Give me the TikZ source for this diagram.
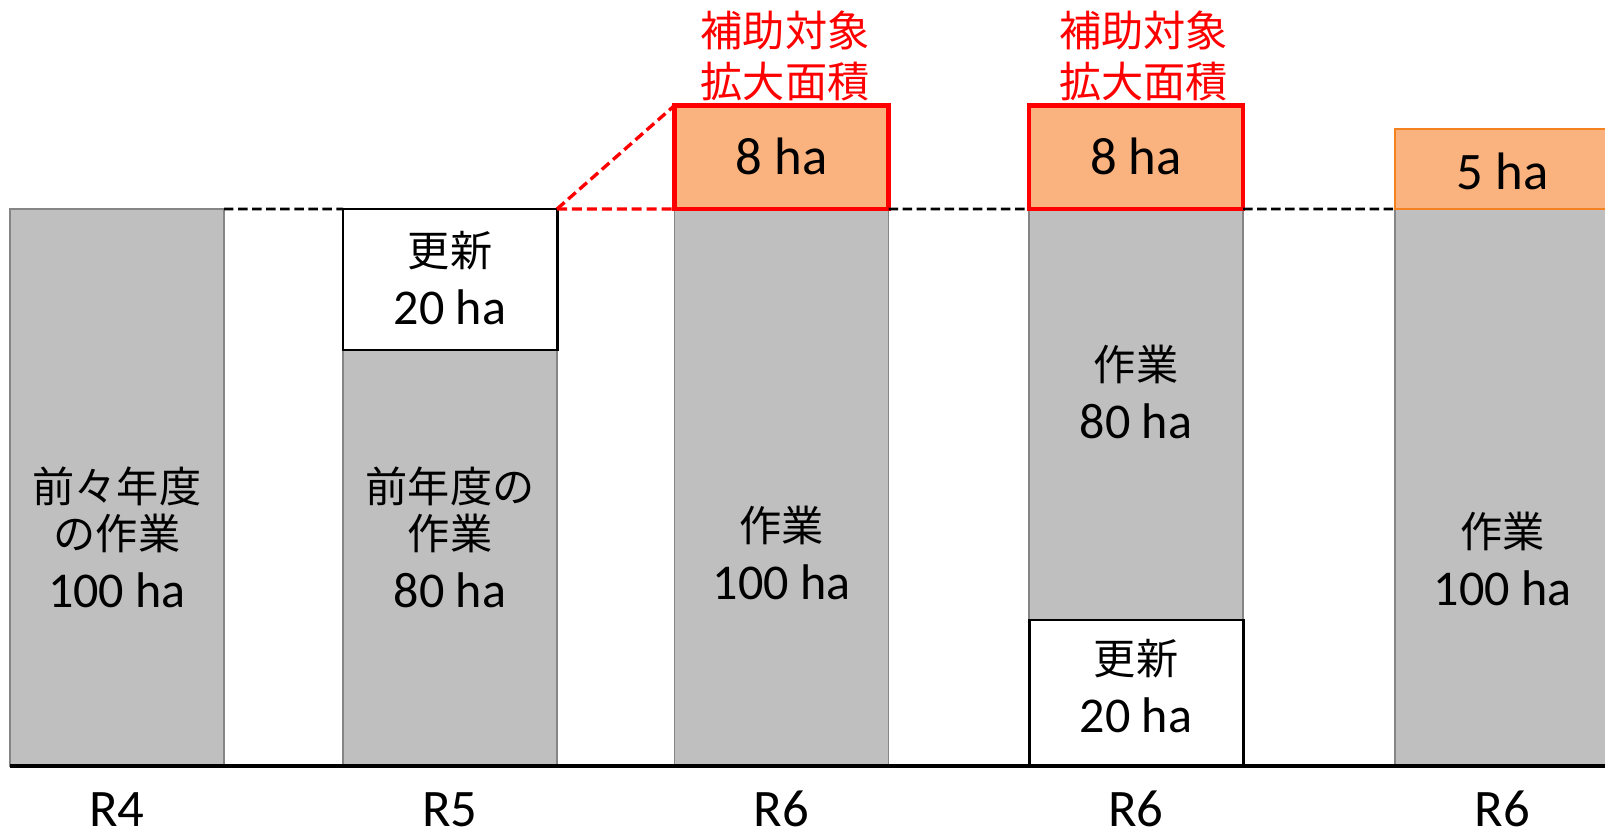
\documentclass[tikz,border=0pt]{standalone}
\usepackage{fontspec}
\setmainfont{Carlito}
\newfontfamily\jp{Noto Sans CJK JP}
\usepackage{tikz}
\usetikzlibrary{positioning}
\definecolor{barfill}{HTML}{BFBFBF}
\definecolor{barline}{HTML}{858585}
\definecolor{addfill}{HTML}{FAB27E}
\definecolor{addline}{HTML}{F58220}
\newcommand{\ja}[1]{{\fontsize{24}{27}\selectfont\jp #1}}

\begin{document}
\begin{tikzpicture}[x=1cm,y=1cm]
  \tikzstyle{bar}=[rectangle,draw=barline,fill=barfill,line width=1.1pt,
                   minimum width=4.28cm,inner sep=0pt,outer sep=0pt,anchor=south west]
  \tikzstyle{newbox}=[bar,draw=black,fill=white,line width=1.7pt]
  \tikzstyle{addbox}=[bar,draw=red,fill=addfill,line width=2.3pt]
  \tikzstyle{addbox5}=[bar,draw=addline,fill=addfill,line width=1.1pt]
  \tikzstyle{txt}=[align=center,font=\fontsize{28.5}{27}\selectfont]
  \tikzstyle{hatxt}=[anchor=base,font=\fontsize{30}{36}\selectfont]
  \tikzstyle{year}=[anchor=base,font=\fontsize{30}{36}\selectfont]
  \tikzstyle{redtxt}=[align=center,red,font=\fontsize{24}{28.8}\selectfont\jp]
  \tikzstyle{level}=[black,line width=1.5pt,dash pattern=on 5.4pt off 2.6pt]
  \tikzstyle{redlevel}=[red,line width=1.9pt,dash pattern=on 5.7pt off 2.8pt]

  \useasboundingbox (0,0) rectangle (32.1,16.62);

  % gray bars
  \node[bar,minimum height=11.14cm] (r4) at (0.2,1.3) {};
  \node[bar,minimum height=8.32cm] (r5) at (6.86,1.3) {};
  \node[bar,minimum height=11.14cm] (r6a) at (13.49,1.3) {};
  \node[bar,minimum height=8.22cm] (r6b) at (20.58,4.22) {};
  \node[bar,minimum height=11.14cm] (r6c) at (27.9,1.3) {};

  % boxes on the bars
  \node[newbox,minimum height=2.82cm,above=0pt of r5] (r5new) {};
  \node[addbox,minimum height=2.07cm,above=0pt of r6a] (r6aadd) {};
  \node[addbox,minimum height=2.07cm,above=0pt of r6b] (r6badd) {};
  \node[newbox,minimum height=2.92cm,below=0pt of r6b] (r6bnew) {};
  \node[addbox5,minimum height=1.60cm,above=0pt of r6c] (r6cadd) {};

  % level lines
  \draw[level] (r4.north east) -- (r5new.north west);
  \draw[level] (r6aadd.south east) -- (r6badd.south west);
  \draw[level] (r6badd.south east) -- (r6c.north west);
  \draw[redlevel] (r5new.north east) -- (r6aadd.south west);
  \draw[redlevel] (r5new.north east) -- (r6aadd.north west);

  % axis
  \coordinate (axisend) at (32.1,1.3);
  \draw[line width=1.9pt] (r4.south west) -- (axisend);

  % texts
  \node[txt] (r4txt) at (2.34,5.87) {\ja{前々年度}\\\ja{の作業}\\[6pt]100 ha};
  \node[txt] (r5txt) at (9.0,5.87) {\ja{前年度の}\\\ja{作業}\\[6pt]80 ha};
  \node[txt] (r5newtxt) at (9.0,11.05) {\ja{更新}\\[6pt]20 ha};
  \node[txt] (r6atxt) at (15.63,5.57) {\ja{作業}\\[6pt]100 ha};
  \node[txt] (r6btxt) at (22.72,8.79) {\ja{作業}\\[6pt]80 ha};
  \node[txt] (r6bnewtxt) at (22.72,2.89) {\ja{更新}\\[6pt]20 ha};
  \node[txt] (r6ctxt) at (30.05,5.45) {\ja{作業}\\[6pt]100 ha};

  \node[hatxt] (r6aha) at (15.63,13.12) {8 ha};
  \node[hatxt] (r6bha) at (22.72,13.12) {8 ha};
  \node[hatxt] (r6cha) at (30.05,12.82) {5 ha};

  \node[redtxt] (r6ared) at (15.70,15.50) {補助対象\\拡大面積};
  \node[redtxt] (r6bred) at (22.87,15.50) {補助対象\\拡大面積};

  % years
  \node[year] (y4) at (2.34,0.09) {R4};
  \node[year] (y5) at (9.0,0.09) {R5};
  \node[year] (y6a) at (15.63,0.09) {R6};
  \node[year] (y6b) at (22.72,0.09) {R6};
  \node[year] (y6c) at (30.05,0.09) {R6};
\end{tikzpicture}
\end{document}
